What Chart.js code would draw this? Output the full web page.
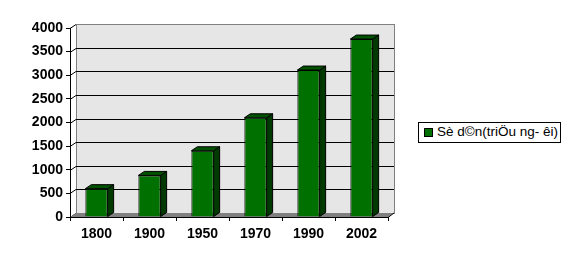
<!DOCTYPE html>
<html lang="vi">
<head>
    <meta charset="UTF-8">
    <title>So dan</title>
    <script src="https://cdn.jsdelivr.net/npm/chart.js@4"></script>
    <style>
      html, body { margin: 0; padding: 0; background: #fff; }
      .wrap { position: relative; width: 571px; height: 266px; }
      #legendBox {
        position: absolute; left: 418px; top: 122px; width: 141px; height: 19px;
        border: 1px solid #000; background: #fff;
        font: 13.5px "Liberation Sans", Arial, sans-serif; color: #000;
        white-space: nowrap;
      }
      #legendBox .swatch {
        position: absolute; left: 5px; top: 5px; width: 9px; height: 9px;
        background: #007000; border: 1px solid #000; box-sizing: border-box;
      }
      #legendBox .txt { position: absolute; left: 18px; top: 1px; }
    </style>
</head>
<body>
  <div class="wrap">
    <canvas id="popChart" width="571" height="266"></canvas>
    <div id="legendBox"><span class="swatch"></span><span class="txt" id="legendText"></span></div>
  </div>

  <script>
    // data
    var years = ["1800", "1900", "1950", "1970", "1990", "2002"];
    var population = [600, 880, 1402, 2100, 3110, 3766];
    var seriesName = "Sè d©n(triÖu ng- êi)";
    var yTicks = [0, 500, 1000, 1500, 2000, 2500, 3000, 3500, 4000];

    document.getElementById("legendText").innerText = seriesName;

    // depth of the fake 3d
    var DX = 6, DY = 4;

    // back wall, floor and grid lines
    var wallPlugin = {
      id: "wall",
      beforeDatasetsDraw: function(chart) {
        var ctx = chart.ctx;
        var area = chart.chartArea;
        var y = chart.scales.y;
        ctx.save();
        // back wall
        ctx.fillStyle = "#e6e6e6";
        ctx.fillRect(area.left + DX, area.top - DY, area.right - area.left, area.bottom - area.top);
        ctx.strokeStyle = "#808080";
        ctx.lineWidth = 1;
        ctx.strokeRect(area.left + DX + 0.5, area.top - DY + 0.5, area.right - area.left, area.bottom - area.top);
        // grid
        ctx.strokeStyle = "#000";
        yTicks.forEach(function(v) {
          var py = Math.round(y.getPixelForValue(v)) + 0.5;
          ctx.beginPath();
          ctx.moveTo(area.left, py);
          ctx.lineTo(area.left + DX, py - DY);
          if (v > 0 && v < 4000) ctx.lineTo(area.right + DX, py - DY);
          ctx.stroke();
        });
        // floor
        ctx.fillStyle = "#808080";
        ctx.beginPath();
        ctx.moveTo(area.left, area.bottom);
        ctx.lineTo(area.left + DX, area.bottom - DY);
        ctx.lineTo(area.right + DX, area.bottom - DY);
        ctx.lineTo(area.right, area.bottom);
        ctx.closePath();
        ctx.fill();
        ctx.strokeStyle = "#000";
        ctx.beginPath();
        ctx.moveTo(area.left, area.bottom + 0.5);
        ctx.lineTo(area.right, area.bottom + 0.5);
        ctx.lineTo(area.right + DX, area.bottom - DY);
        ctx.stroke();
        ctx.beginPath();
        ctx.moveTo(area.left + 0.5, area.top);
        ctx.lineTo(area.left + 0.5, area.bottom);
        ctx.stroke();
        ctx.restore();
      }
    };

    // side and top faces of each bar
    var depthPlugin = {
      id: "depth",
      afterDatasetsDraw: function(chart) {
        var ctx = chart.ctx;
        var meta = chart.getDatasetMeta(0);
        ctx.save();
        ctx.strokeStyle = "#000";
        ctx.lineWidth = 1;
        meta.data.forEach(function(bar) {
          var p = bar.getProps(["x", "y", "base", "width"], true);
          var l = p.x - p.width / 2, r = p.x + p.width / 2;
          // side
          ctx.fillStyle = "#003a00";
          ctx.beginPath();
          ctx.moveTo(r, p.y);
          ctx.lineTo(r + DX, p.y - DY);
          ctx.lineTo(r + DX, p.base - DY);
          ctx.lineTo(r, p.base);
          ctx.closePath();
          ctx.fill();
          ctx.stroke();
          // top
          ctx.fillStyle = "#005200";
          ctx.beginPath();
          ctx.moveTo(l, p.y);
          ctx.lineTo(l + DX, p.y - DY);
          ctx.lineTo(r + DX, p.y - DY);
          ctx.lineTo(r, p.y);
          ctx.closePath();
          ctx.fill();
          ctx.stroke();
        });
        ctx.restore();
      }
    };

    var tickFont = { family: "'Liberation Sans', Arial, sans-serif", size: 14, weight: "bold" };

    new Chart(document.getElementById("popChart").getContext("2d"), {
      type: "bar",
      data: {
        labels: years,
        datasets: [{
          label: seriesName,
          data: population,
          backgroundColor: "#007000",
          borderColor: "#000",
          borderWidth: 1,
          barPercentage: 0.42,
          categoryPercentage: 1
        }]
      },
      options: {
        responsive: false,
        animation: false,
        layout: { padding: { top: 28, right: 183, bottom: 0, left: 0 } },
        plugins: { legend: { display: false }, tooltip: { enabled: false } },
        scales: {
          x: {
            grid: { offset: true, drawOnChartArea: false, drawTicks: true, tickLength: 4, color: "#000" },
            border: { display: false },
            ticks: { font: tickFont, color: "#000", padding: 5, maxRotation: 0 },
            afterFit: function(s) { s.height = 49; }
          },
          y: {
            min: 0, max: 4000,
            afterBuildTicks: function(s) { s.ticks = yTicks.map(function(v) { return { value: v }; }); },
            grid: { drawOnChartArea: false, drawTicks: true, tickLength: 4, color: "#000" },
            border: { display: false },
            ticks: { font: tickFont, color: "#000", padding: 3, callback: function(v) { return String(v); } },
            afterFit: function(s) { s.width = 70; }
          }
        }
      },
      plugins: [wallPlugin, depthPlugin]
    });
  </script>
</body>
</html>
